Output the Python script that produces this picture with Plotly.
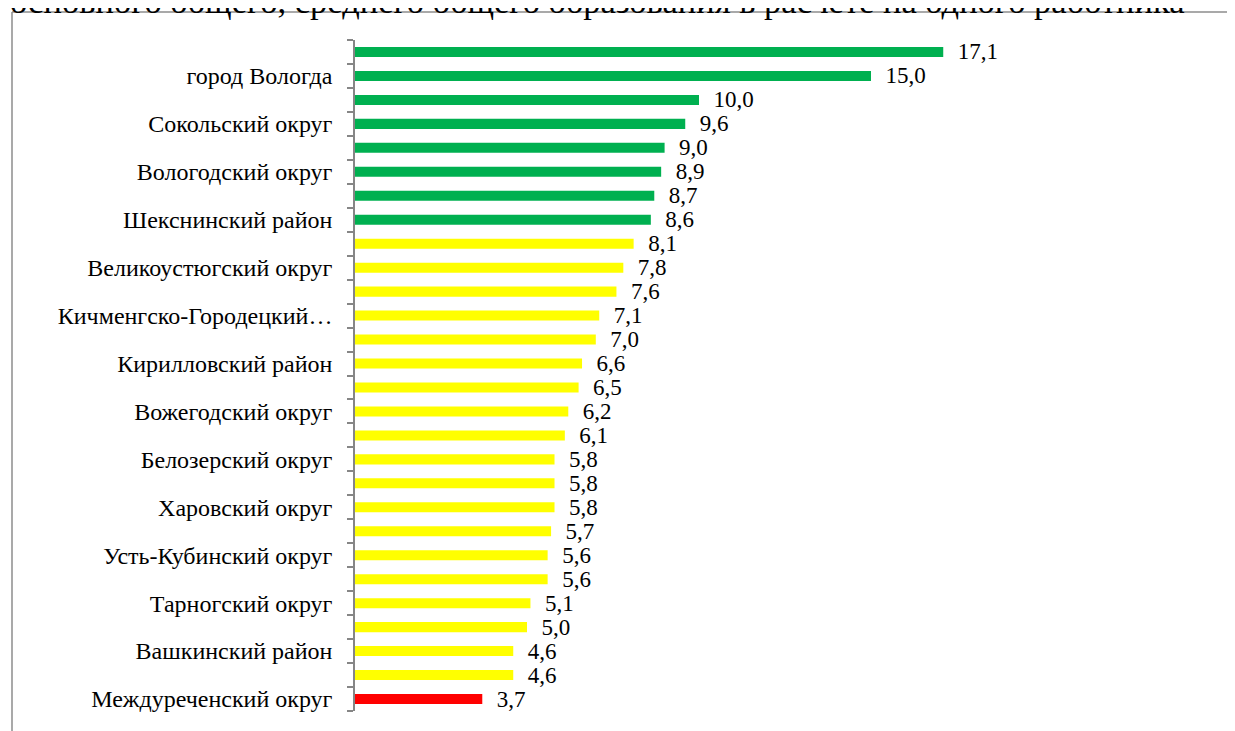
import plotly.graph_objects as go

# Categories, top to bottom (only every other one is labelled in the reference)
categories = [
    "город Череповец", "город Вологда", "Череповецкий округ", "Сокольский округ",
    "Грязовецкий округ", "Вологодский округ", "Кадуйский округ", "Шекснинский район",
    "Тотемский округ", "Великоустюгский округ", "Устюженский округ", "Кичменгско-Городецкий округ",
    "Бабаевский округ", "Кирилловский район", "Вытегорский округ", "Вожегодский округ",
    "Никольский округ", "Белозерский округ", "Чагодощенский округ", "Харовский округ",
    "Нюксенский округ", "Усть-Кубинский округ", "Верховажский округ", "Тарногский округ",
    "Бабушкинский округ", "Вашкинский район", "Сямженский округ", "Междуреченский округ",
]
values = [17.1, 15.0, 10.0, 9.6, 9.0, 8.9, 8.7, 8.6, 8.1, 7.8, 7.6, 7.1, 7.0, 6.6,
          6.5, 6.2, 6.1, 5.8, 5.8, 5.8, 5.7, 5.6, 5.6, 5.1, 5.0, 4.6, 4.6, 3.7]
groups = ["high"] * 8 + ["mid"] * 19 + ["low"]
tick_labels = [
    "", "город Вологда", "", "Сокольский округ", "", "Вологодский округ", "",
    "Шекснинский район", "", "Великоустюгский округ", "", "Кичменгско-Городецкий…",
    "", "Кирилловский район", "", "Вожегодский округ", "", "Белозерский округ", "",
    "Харовский округ", "", "Усть-Кубинский округ", "", "Тарногский округ", "",
    "Вашкинский район", "", "Междуреченский округ",
]
title_text = "основного общего, среднего общего образования в расчете на одного работника"

group_colors = {"high": "#00B050", "mid": "#FFFF00", "low": "#FF0000"}
colors = [group_colors[g] for g in groups]
labels = ["\u00a0\u00a0" + f"{v:.1f}".replace(".", ",") for v in values]

# page body has an 8px margin, so the figure is sized to fit the 1235x731 window
OFF = 8
W, H = 1235 - OFF, 731 - OFF
L, R, T, B = 355 - OFF, 0, 40 - OFF, 20
pw, ph = W - L - R, H - T - B
px_per_unit = 34.4

fig = go.Figure(go.Bar(
    x=values, y=categories, orientation="h",
    marker=dict(color=colors, line=dict(width=0)),
    width=0.42,
    text=labels, textposition="outside", cliponaxis=False, constraintext="none",
    textfont=dict(family="Liberation Serif", size=23, color="#000000"),
    outsidetextfont=dict(family="Liberation Serif", size=23, color="#000000"),
    hoverinfo="x+y",
))

fig.update_layout(
    width=W, height=H,
    margin=dict(l=L, r=R, t=T, b=B),
    paper_bgcolor="white", plot_bgcolor="white",
    showlegend=False,
    font=dict(family="Liberation Serif", size=23, color="#000000"),
    xaxis=dict(range=[0, pw / px_per_unit], visible=False, fixedrange=True),
    yaxis=dict(
        type="category", categoryorder="array", categoryarray=categories,
        autorange="reversed",
        tickmode="array", tickvals=categories, ticktext=tick_labels,
        tickson="boundaries", ticks="outside", ticklen=6, tickwidth=1.5,
        tickcolor="#868686", showline=True, linecolor="#868686", linewidth=1.5,
        showgrid=False, ticklabelstandoff=16,
        tickfont=dict(family="Liberation Serif", size=24, color="#000000"),
    ),
    bargap=0.58,
)

# chart border (outer frame, cropped on right/bottom in the reference)
fig.add_shape(type="line", xref="paper", yref="paper",
              x0=(12 - OFF - L) / pw, x1=1.5, y0=(H - B - (12 - OFF)) / ph, y1=(H - B - (12 - OFF)) / ph,
              line=dict(color="#8c8c8c", width=1.5))
fig.add_shape(type="line", xref="paper", yref="paper",
              x0=(12 - OFF - L) / pw, x1=(12 - OFF - L) / pw, y0=-0.2, y1=(H - B - (12 - OFF)) / ph,
              line=dict(color="#8c8c8c", width=1.5))

# title line, partially cut at the top in the reference
fig.add_annotation(text=title_text, xref="paper", yref="paper",
                   x=(0 - L) / pw, xanchor="left", y=(H - B + 7) / ph, yanchor="middle",
                   showarrow=False, font=dict(family="Liberation Serif", size=34.5, color="#000000"))

fig.write_html("out.html")
